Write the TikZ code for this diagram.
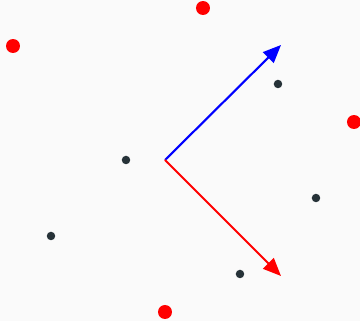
\documentclass[tikz,border=0pt]{standalone}
\usepackage{xcolor}
\usepackage{tikz}
\usetikzlibrary{arrows.meta}
\definecolor{bgpaper}{RGB}{250,250,250}
\definecolor{darkpt}{RGB}{38,50,56}
\definecolor{vecblue}{RGB}{0,0,255}
\definecolor{vecred}{RGB}{255,0,0}

\begin{document}
\begin{tikzpicture}[x=0.02cm,y=-0.02cm,
  bigdot/.style={circle,fill=vecred,inner sep=0pt,minimum size=0.28cm},
  smalldot/.style={circle,fill=darkpt,inner sep=0pt,minimum size=0.17cm},
  vec/.style={line width=1.2pt,-{Triangle[length=0.36cm,width=0.3cm]}}]
\fill[bgpaper] (0,0) rectangle (360,321);
\useasboundingbox (0,0) rectangle (360,321);
% red points
\node[bigdot] (r1) at (13,46) {};
\node[bigdot] (r2) at (203,8) {};
\node[bigdot] (r3) at (354,122) {};
\node[bigdot] (r4) at (165,312) {};
% dark points
\node[smalldot] (d1) at (278,84) {};
\node[smalldot] (d2) at (126,160) {};
\node[smalldot] (d3) at (316,198) {};
\node[smalldot] (d4) at (51,236) {};
\node[smalldot] (d5) at (240,274) {};
% vectors
\coordinate (o) at (165,160);
\coordinate (tipb) at (281,45);
\coordinate (tipr) at (281,276);
\draw[vec,vecblue] (o) -- (tipb);
\draw[vec,vecred] (o) -- (tipr);
\end{tikzpicture}
\end{document}
